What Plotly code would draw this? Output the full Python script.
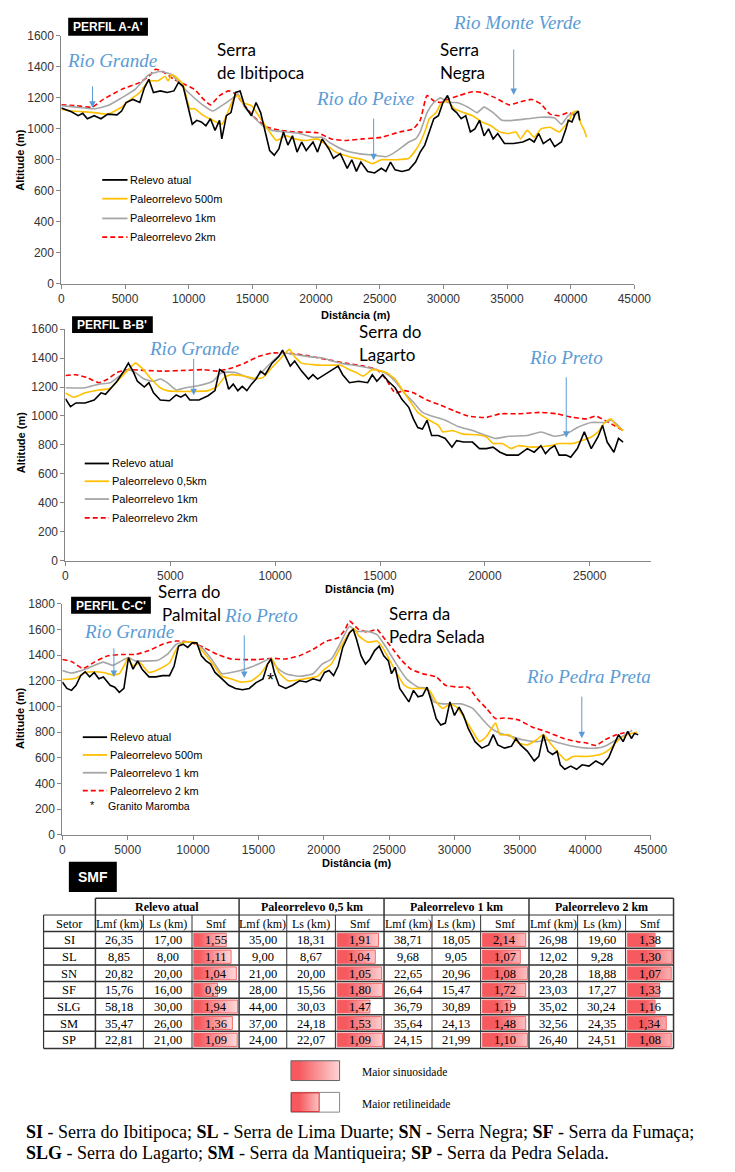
import plotly.graph_objects as go

W, H = 735, 1172


def px(x):
    return x / W


def py(y):
    return 1 - y / H


# ---------------- DATA ----------------
# Perfil A-A'
a_atual_x = [0, 790, 1320, 1680, 2040, 2580, 3110, 3650, 4370, 4730, 5080, 5620, 6160, 6520, 6870, 7230, 7770, 8310, 8840, 9200, 9560, 9920, 10280, 10630, 10990, 11350, 11710, 12070, 12420, 12600, 12960, 13320, 13680, 14040, 14390, 14930, 15290, 15650, 16000, 16360, 16720, 17080, 17440, 17790, 18150, 18510, 18870, 19230, 19760, 20120, 20480, 21010, 21370, 21910, 22450, 22810, 23170, 23520, 24060, 24600, 25130, 25490, 25850, 26210, 26750, 27290, 27820, 28180, 28540, 28900, 29250, 29610, 29970, 30330, 30690, 31040, 31400, 31760, 32120, 32480, 32840, 33200, 33550, 33910, 34270, 34800, 35520, 36240, 36770, 37130, 37490, 37850, 38380, 38740, 39270, 39630, 39810, 40100, 40350, 40600, 40710]
a_atual_y = [1135, 1110, 1085, 1100, 1065, 1085, 1065, 1095, 1090, 1115, 1170, 1190, 1170, 1265, 1320, 1235, 1245, 1235, 1245, 1300, 1275, 1150, 1030, 1055, 1045, 1020, 1065, 990, 1055, 935, 1085, 1105, 1235, 1245, 1150, 1085, 1170, 1105, 980, 860, 830, 870, 980, 895, 955, 850, 915, 860, 915, 850, 935, 870, 810, 840, 745, 800, 725, 785, 725, 715, 745, 725, 785, 735, 725, 735, 785, 850, 895, 980, 1065, 1085, 1170, 1215, 1130, 1105, 1065, 1085, 980, 1000, 1055, 955, 1000, 935, 970, 905, 905, 915, 935, 915, 970, 905, 935, 885, 915, 1000, 1055, 1045, 1095, 1115, 1055]
a_500_x = [0, 790, 2580, 3650, 4730, 5440, 6160, 6870, 7590, 8130, 8380, 8660, 9200, 9560, 10100, 10460, 11170, 11890, 12600, 12960, 13500, 13860, 14210, 14930, 15650, 16360, 16900, 17620, 18330, 19230, 20120, 20840, 21550, 22630, 23700, 24420, 25130, 26210, 27290, 28000, 28540, 28900, 29430, 29790, 30330, 30860, 31580, 32300, 33010, 33730, 34440, 35160, 35700, 36060, 36590, 37130, 37670, 38380, 39100, 39450, 39810, 40170, 40460, 40820, 41070, 41250]
a_500_y = [1125, 1115, 1105, 1095, 1140, 1190, 1235, 1310, 1310, 1340, 1310, 1350, 1320, 1285, 1130, 1130, 1085, 1055, 1030, 1085, 1190, 1215, 1170, 1150, 1065, 980, 925, 955, 935, 925, 935, 895, 850, 820, 800, 775, 800, 800, 810, 885, 980, 1065, 1105, 1160, 1180, 1130, 1105, 1085, 1045, 1020, 980, 970, 980, 935, 990, 945, 1000, 1010, 980, 1010, 1045, 1105, 1115, 1030, 990, 945]
a_1k_x = [0, 1150, 2580, 3650, 4730, 5800, 6870, 7770, 8660, 9380, 10100, 11170, 11890, 12600, 13320, 13860, 14390, 15110, 15830, 16540, 17620, 18690, 19760, 20480, 21200, 22270, 23340, 24420, 25490, 26030, 26570, 27290, 27820, 28180, 28720, 29250, 29790, 30330, 31040, 31940, 32650, 33190, 33910, 34620, 35520, 36590, 37670, 38740, 39270, 39810, 40350]
a_1k_y = [1150, 1140, 1130, 1150, 1200, 1255, 1350, 1370, 1350, 1285, 1225, 1150, 1115, 1150, 1190, 1225, 1140, 1075, 1020, 990, 980, 970, 945, 945, 905, 860, 840, 830, 820, 840, 870, 915, 935, 980, 1105, 1170, 1200, 1170, 1170, 1140, 1105, 1140, 1105, 1055, 1055, 1065, 1075, 1070, 1030, 1085, 1105]
a_2k_x = [0, 1150, 2400, 3290, 4730, 6160, 6870, 7410, 7950, 8840, 9740, 10460, 11170, 11710, 12420, 13140, 13680, 14390, 15290, 16180, 17260, 18330, 20120, 21200, 22270, 23700, 25130, 26570, 27640, 28180, 28720, 29250, 29790, 30330, 31220, 32300, 33010, 34090, 35160, 35880, 36950, 37670, 38380, 39100, 39810, 40350]
a_2k_y = [1155, 1150, 1140, 1190, 1255, 1300, 1340, 1385, 1370, 1320, 1285, 1255, 1190, 1155, 1215, 1245, 1225, 1150, 1065, 1010, 990, 980, 975, 935, 925, 935, 945, 980, 1000, 1055, 1215, 1180, 1170, 1190, 1215, 1240, 1235, 1200, 1155, 1170, 1190, 1160, 1095, 1085, 1105, 1085]

# Perfil B-B'
b_atual_x = [0, 240, 500, 935, 1370, 1700, 1910, 2130, 2460, 2780, 3000, 3220, 3430, 3760, 3980, 4200, 4520, 4960, 5280, 5500, 5720, 5930, 6370, 6800, 7130, 7350, 7570, 7780, 8000, 8220, 8430, 8650, 8870, 9090, 9300, 9520, 9850, 10170, 10350, 10500, 10720, 10930, 11260, 11590, 11800, 12020, 12350, 12670, 13000, 13220, 13540, 13980, 14410, 14630, 14850, 15130, 15390, 15720, 16040, 16370, 16590, 16800, 17020, 17240, 17460, 17780, 18110, 18430, 18650, 18980, 19410, 19740, 20070, 20390, 20720, 21040, 21590, 22020, 22350, 22670, 22890, 23110, 23330, 23540, 23870, 24090, 24410, 24740, 25070, 25390, 25610, 25830, 26150, 26370, 26590]
b_atual_y = [1120, 1065, 1090, 1090, 1110, 1160, 1150, 1185, 1240, 1310, 1365, 1310, 1240, 1200, 1230, 1160, 1110, 1105, 1145, 1130, 1150, 1110, 1110, 1140, 1175, 1320, 1300, 1185, 1220, 1175, 1205, 1175, 1220, 1255, 1310, 1285, 1365, 1410, 1455, 1410, 1345, 1380, 1310, 1255, 1285, 1255, 1285, 1320, 1345, 1285, 1230, 1240, 1230, 1285, 1240, 1285, 1240, 1195, 1115, 1060, 980, 920, 910, 970, 865, 865, 845, 785, 830, 820, 820, 775, 775, 785, 750, 730, 730, 775, 750, 795, 740, 775, 795, 730, 730, 715, 775, 890, 775, 855, 935, 820, 750, 845, 820]
b_500_x = [0, 390, 935, 1590, 2130, 2570, 3000, 3330, 3650, 4090, 4520, 4850, 5280, 6150, 6800, 7240, 7570, 7890, 8540, 8980, 9410, 9850, 10280, 10670, 10930, 11260, 11800, 12240, 13110, 13540, 13870, 14200, 14630, 15280, 15720, 16040, 16370, 16800, 17240, 17780, 18000, 18430, 18980, 19630, 20070, 20390, 20830, 21260, 21590, 22240, 23110, 23540, 24200, 24630, 25070, 25390, 25720, 26000, 26260, 26590]
b_500_y = [1160, 1130, 1160, 1180, 1190, 1255, 1320, 1365, 1330, 1255, 1195, 1175, 1170, 1170, 1175, 1205, 1265, 1285, 1275, 1260, 1265, 1335, 1400, 1460, 1410, 1365, 1355, 1350, 1350, 1320, 1300, 1275, 1320, 1300, 1255, 1185, 1115, 1025, 980, 935, 890, 900, 875, 870, 855, 810, 810, 775, 795, 785, 795, 810, 810, 830, 855, 890, 955, 980, 935, 900]
b_1k_x = [0, 935, 1590, 2130, 2570, 3000, 3330, 3760, 4200, 4520, 4850, 5280, 5720, 6370, 7020, 7460, 8110, 8540, 8980, 9410, 9960, 10390, 10930, 11590, 12240, 13110, 13980, 14850, 15390, 15720, 16150, 16590, 17020, 17460, 18110, 18760, 19410, 20070, 20500, 21150, 22020, 22670, 23330, 23870, 24410, 25070, 25720, 26040, 26590]
b_1k_y = [1195, 1195, 1220, 1230, 1275, 1320, 1300, 1255, 1240, 1255, 1230, 1180, 1195, 1210, 1240, 1300, 1300, 1275, 1255, 1310, 1390, 1435, 1425, 1410, 1400, 1365, 1345, 1320, 1285, 1240, 1160, 1095, 1025, 1000, 970, 925, 900, 865, 845, 860, 865, 890, 860, 875, 920, 955, 955, 970, 900]
b_2k_x = [0, 500, 1040, 1590, 2020, 2460, 3000, 3760, 4630, 5720, 6590, 7240, 7890, 8540, 9200, 9850, 10930, 11590, 12460, 13330, 14200, 14850, 15280, 15720, 16150, 16590, 17240, 17890, 18540, 19200, 20070, 20720, 21590, 22670, 23430, 24200, 24850, 25280, 25720, 26150, 26590]
b_2k_y = [1280, 1285, 1265, 1230, 1255, 1300, 1320, 1315, 1310, 1315, 1320, 1310, 1330, 1365, 1410, 1435, 1430, 1415, 1390, 1365, 1345, 1320, 1255, 1160, 1175, 1160, 1110, 1075, 1035, 1000, 990, 1015, 1015, 1025, 1015, 990, 980, 1000, 970, 935, 900]

# Perfil C-C'
c_atual_x = [0, 350, 700, 1050, 1400, 1740, 2090, 2440, 2790, 3140, 3660, 4010, 4360, 4710, 5060, 5410, 5760, 6100, 6630, 7150, 7670, 8200, 8550, 8890, 9240, 9590, 9940, 10290, 10640, 10990, 11340, 11680, 12210, 12730, 13250, 13780, 14300, 14820, 15350, 15700, 15970, 16220, 16570, 17090, 17610, 18140, 18660, 19180, 19710, 20060, 20400, 20750, 21100, 21450, 21970, 22250, 22500, 22850, 23190, 23540, 23890, 24240, 24590, 24940, 25180, 25460, 25810, 26160, 26510, 26860, 27210, 27560, 27900, 28250, 28600, 28950, 29300, 29650, 30000, 30350, 30690, 31040, 31570, 32090, 32610, 32960, 33310, 33830, 34360, 34700, 35050, 35580, 36100, 36450, 36800, 37150, 37500, 37850, 38090, 38440, 38890, 39340, 39760, 40290, 40810, 41330, 41790, 42200, 42550, 42900, 43250, 43530, 43770, 44050]
c_atual_y = [1190, 1140, 1125, 1165, 1240, 1270, 1230, 1265, 1215, 1230, 1165, 1150, 1110, 1140, 1380, 1290, 1355, 1290, 1230, 1230, 1240, 1240, 1315, 1470, 1485, 1460, 1495, 1495, 1395, 1355, 1330, 1265, 1215, 1165, 1140, 1130, 1140, 1185, 1215, 1330, 1370, 1265, 1165, 1140, 1165, 1200, 1190, 1215, 1200, 1265, 1280, 1240, 1315, 1460, 1575, 1600, 1525, 1395, 1330, 1370, 1435, 1470, 1395, 1355, 1255, 1305, 1140, 1085, 1035, 1125, 1075, 1085, 1150, 1035, 905, 855, 870, 1035, 930, 995, 930, 830, 725, 675, 700, 780, 700, 675, 690, 750, 700, 650, 575, 610, 780, 650, 625, 650, 545, 510, 535, 510, 545, 535, 575, 545, 600, 700, 780, 725, 805, 750, 790, 780]
c_500_x = [0, 1050, 1740, 2440, 3140, 3840, 4360, 4710, 5060, 5410, 5930, 6630, 7500, 8200, 8720, 9240, 10120, 10810, 11510, 12210, 12910, 13600, 14480, 15170, 15700, 16040, 16570, 17270, 18490, 19530, 20060, 20580, 21280, 21970, 22320, 22670, 23370, 24070, 24490, 24940, 25460, 26160, 26680, 27560, 28080, 28600, 29120, 29650, 30170, 30690, 31390, 31910, 32440, 33140, 33480, 34180, 34880, 35580, 36280, 36800, 37320, 37850, 38540, 39060, 40110, 41160, 41860, 42550, 43250, 43950]
c_500_y = [1210, 1220, 1265, 1270, 1265, 1245, 1255, 1315, 1380, 1315, 1340, 1265, 1295, 1340, 1445, 1500, 1500, 1420, 1330, 1235, 1215, 1190, 1200, 1255, 1330, 1370, 1265, 1200, 1215, 1235, 1290, 1330, 1460, 1575, 1605, 1550, 1500, 1510, 1460, 1380, 1280, 1165, 1140, 1140, 1125, 1035, 985, 1020, 995, 920, 805, 725, 765, 870, 780, 780, 715, 700, 740, 780, 715, 650, 580, 610, 610, 625, 665, 740, 780, 800]
c_1k_x = [0, 700, 1740, 3140, 3840, 4530, 5060, 5580, 6630, 7320, 8020, 8720, 9420, 10120, 10810, 11510, 12210, 12910, 13950, 15000, 15870, 16390, 17090, 18140, 19180, 19880, 20580, 21280, 21970, 22500, 23370, 24070, 24770, 25460, 26330, 27210, 27900, 28430, 29120, 29820, 30520, 31390, 32090, 32790, 33480, 34360, 35230, 36280, 37150, 38020, 39060, 40110, 40810, 41510, 42380, 43250, 43600]
c_1k_y = [1280, 1260, 1290, 1345, 1320, 1355, 1380, 1355, 1355, 1360, 1405, 1485, 1500, 1495, 1445, 1355, 1255, 1265, 1290, 1330, 1370, 1305, 1255, 1235, 1255, 1330, 1370, 1495, 1625, 1585, 1585, 1560, 1460, 1345, 1215, 1150, 1140, 1035, 1020, 1020, 1020, 985, 905, 830, 790, 765, 740, 725, 740, 715, 690, 675, 675, 690, 740, 790, 815]
c_2k_x = [0, 700, 1570, 2440, 3490, 4530, 5580, 6630, 7670, 8720, 9770, 10810, 11860, 12910, 13950, 15000, 16040, 17090, 18140, 19180, 20230, 21100, 21630, 21970, 22670, 23370, 24070, 24590, 25290, 25990, 26680, 27560, 28600, 29300, 30350, 31040, 31740, 32440, 33140, 33830, 34880, 35930, 36970, 38370, 39410, 40110, 40810, 41510, 42380, 43250]
c_2k_y = [1365, 1350, 1295, 1345, 1395, 1405, 1405, 1435, 1485, 1510, 1500, 1460, 1405, 1370, 1365, 1365, 1375, 1370, 1395, 1445, 1510, 1535, 1600, 1665, 1600, 1580, 1600, 1535, 1445, 1355, 1290, 1255, 1230, 1165, 1150, 1150, 1060, 985, 905, 910, 895, 840, 805, 750, 725, 715, 695, 740, 780, 800]

# SMF table
setores = ["SI", "SL", "SN", "SF", "SLG", "SM", "SP"]
grupos = ["Relevo atual", "Paleorrelevo 0,5 km", "Paleorrelevo 1 km", "Paleorrelevo 2 km"]
sub_cols = ["Lmf (km)", "Ls (km)", "Smf"]
atual_lmf = [26.35, 8.85, 20.82, 15.76, 58.18, 35.47, 22.81]
atual_ls = [17.00, 8.00, 20.00, 16.00, 30.00, 26.00, 21.00]
atual_smf = [1.55, 1.11, 1.04, 0.99, 1.94, 1.36, 1.09]
p05_lmf = [35.00, 9.00, 21.00, 28.00, 44.00, 37.00, 24.00]
p05_ls = [18.31, 8.67, 20.00, 15.56, 30.03, 24.18, 22.07]
p05_smf = [1.91, 1.04, 1.05, 1.80, 1.47, 1.53, 1.09]
p1_lmf = [38.71, 9.68, 22.65, 26.64, 36.79, 35.64, 24.15]
p1_ls = [18.05, 9.05, 20.96, 15.47, 30.89, 24.13, 21.99]
p1_smf = [2.14, 1.07, 1.08, 1.72, 1.19, 1.48, 1.10]
p2_lmf = [26.98, 12.02, 20.28, 23.03, 35.02, 32.56, 26.40]
p2_ls = [19.60, 9.28, 18.88, 17.27, 30.24, 24.35, 24.51]
p2_smf = [1.38, 1.30, 1.07, 1.33, 1.16, 1.34, 1.08]
# data-bar fill fraction
atual_bar = [0.74, 0.85, 0.97, 0.54, 1.00, 0.88, 0.99]
p05_bar = [0.91, 0.84, 0.98, 1.00, 0.72, 0.98, 1.00]
p1_bar = [0.96, 0.84, 1.00, 0.96, 0.62, 0.96, 1.00]
p2_bar = [0.62, 1.00, 0.98, 0.72, 0.62, 0.87, 0.98]

# ---------------- FIGURE ----------------
fig = go.Figure()

BLACK, YEL, GRY, RED = "#000000", "#FFC000", "#A6A6A6", "#FF0000"
BLUE = "#5B9BD5"
AX = "#868686"
TICKF = dict(family="Liberation Sans, Arial", size=12, color="#333333")

panels = [
    dict(n="", xd=(60, 649), yd=(280, 29.3), xr=45000, yr=1600, dt=200, xt=45000,
         s=[(a_atual_x, a_atual_y), (a_500_x, a_500_y), (a_1k_x, a_1k_y), (a_2k_x, a_2k_y)]),
    dict(n="2", xd=(64.2, 665.7), yd=(560.5, 326), xr=27900, yr=1600, dt=200, xt=25000,
         s=[(b_atual_x, b_atual_y), (b_500_x, b_500_y), (b_1k_x, b_1k_y), (b_2k_x, b_2k_y)]),
    dict(n="3", xd=(61, 665.7), yd=(837.7, 604), xr=45000, yr=1800, dt=200, xt=45000,
         s=[(c_atual_x, c_atual_y), (c_500_x, c_500_y), (c_1k_x, c_1k_y), (c_2k_x, c_2k_y)]),
]
styles = [
    dict(color=BLACK, width=1.6),
    dict(color=YEL, width=1.6, shape="spline", smoothing=0.5),
    dict(color=GRY, width=1.6, shape="spline", smoothing=0.5),
    dict(color=RED, width=1.6, dash="5px,3px", shape="spline", smoothing=0.5),
]

for p in panels:
    n = p["n"]
    xa, ya = "x" + n, "y" + n
    for i in [3, 2, 1, 0]:
        xs, ys = p["s"][i]
        fig.add_trace(go.Scatter(x=xs, y=ys, mode="lines", line=styles[i],
                                 xaxis=xa, yaxis=ya, showlegend=False, hoverinfo="skip"))
    fig.layout["xaxis" + n] = dict(domain=[px(p["xd"][0]), px(p["xd"][1])], range=[0, p["xr"]],
                                   tickvals=list(range(0, p["xt"] + 1, 5000)), tickformat="d",
                                   ticks="outside", ticklen=4, tickcolor=AX, showline=True, linecolor=AX,
                                   linewidth=1, showgrid=False, zeroline=False, tickfont=TICKF,
                                   anchor=ya, fixedrange=True)
    fig.layout["yaxis" + n] = dict(domain=[py(p["yd"][0]), py(p["yd"][1])], range=[0, p["yr"]],
                                   tickvals=list(range(0, p["yr"] + 1, p["dt"])), tickformat="d",
                                   ticks="outside", ticklen=4, tickcolor=AX, showline=True, linecolor=AX,
                                   linewidth=1, showgrid=False, zeroline=False, tickfont=TICKF,
                                   anchor=xa, fixedrange=True)

shapes = []
ann = []


def text(x, y, t, size=12, color="#000", family="Liberation Sans, Arial", xanchor="left", **kw):
    ann.append(dict(x=px(x), y=py(y), xref="paper", yref="paper", text=t, showarrow=False,
                    xanchor=xanchor, yanchor="middle", font=dict(size=size, color=color, family=family), **kw))


def arrow(x, y0, y1):
    ann.append(dict(x=px(x), y=py(y1), xref="paper", yref="paper", text="", showarrow=True,
                    ax=0, ay=-(y1 - y0), axref="pixel", ayref="pixel", arrowhead=2, arrowsize=1.3,
                    arrowwidth=1, arrowcolor=BLUE))


def label_box(x0, y0, x1, y1, t, size=12):
    shapes.append(dict(type="rect", xref="paper", yref="paper", x0=px(x0), x1=px(x1), y0=py(y1), y1=py(y0),
                       fillcolor="#000", line=dict(width=0)))
    text((x0 + x1) / 2, (y0 + y1) / 2 + 0.5, "<b>%s</b>" % t, size=size, color="#fff", xanchor="center")


def legend(x0, x1, ys, labels):
    for (y, lab, st) in zip(ys, labels, styles):
        shapes.append(dict(type="line", xref="paper", yref="paper", x0=px(x0), x1=px(x1), y0=py(y), y1=py(y),
                           line=dict(color=st["color"], width=1.8, dash=st.get("dash", "solid"))))
        text(x1 + 1, y, lab, size=11)


SERIF_I = "Liberation Serif, Times New Roman"
SANS_H = "Lato, Carlito, Calibri"

# Panel A
label_box(67, 11, 149, 29, "PERFIL A-A'")
text(18, 155, "<b>Altitude (m)</b>", size=11, xanchor="center", textangle=-90)
text(362, 312, "<b>Distância (m)</b>", size=11, xanchor="center")
legend(102, 128, [175, 194, 214, 233], ["Relevo atual", "Paleorrelevo 500m", "Paleorrelevo 1km", "Paleorrelevo 2km"])
text(112, 54, "<i>Rio Grande</i>", size=19, color=BLUE, family=SERIF_I, xanchor="center")
arrow(92, 79, 102)
text(218, 43, "Serra", size=17, family=SANS_H)
text(218, 66, "de Ibitipoca", size=17, family=SANS_H)
text(372, 93, "<i>Rio do Peixe</i>", size=19, color=BLUE, family=SERIF_I, xanchor="center")
arrow(381, 112, 155)
text(447, 43, "Serra", size=17, family=SANS_H)
text(447, 66, "Negra", size=17, family=SANS_H)
text(528, 16, "<i>Rio Monte Verde</i>", size=19, color=BLUE, family=SERIF_I, xanchor="center")
arrow(525, 42, 89)

# Panel B
label_box(71, 313, 154, 330, "PERFIL B-B'")
text(18, 441, "<b>Altitude (m)</b>", size=11, xanchor="center", textangle=-90)
text(366, 589, "<b>Distância (m)</b>", size=11, xanchor="center")
legend(84, 109, [462, 480, 498, 517], ["Relevo atual", "Paleorrelevo 0,5km", "Paleorrelevo 1km", "Paleorrelevo 2km"])
text(196, 346, "<i>Rio Grande</i>", size=19, color=BLUE, family=SERIF_I, xanchor="center")
arrow(196, 355, 393)
text(364, 328, "Serra do", size=17, family=SANS_H)
text(364, 352, "Lagarto", size=17, family=SANS_H)
text(579, 355, "<i>Rio Preto</i>", size=19, color=BLUE, family=SERIF_I, xanchor="center")
arrow(579, 374, 436)

# Panel C
label_box(70, 597, 152, 614, "PERFIL C-C'")
text(18, 720, "<b>Altitude (m)</b>", size=11, xanchor="center", textangle=-90)
text(363, 866, "<b>Distância (m)</b>", size=11, xanchor="center")
legend(82, 107, [739, 757, 775, 793], ["Relevo atual", "Paleorrelevo 500m", "Paleorrelevo 1 km", "Paleorrelevo 2 km"])
text(92, 808, "*", size=11, xanchor="center")
text(106, 809, "Granito Maromba", size=10.5)
text(157, 592, "Serra do", size=17, family=SANS_H)
text(161, 615, "Palmital", size=17, family=SANS_H)
text(265, 616, "<i>Rio Preto</i>", size=19, color=BLUE, family=SERIF_I, xanchor="center")
arrow(248, 635, 679)
text(130, 632, "<i>Rio Grande</i>", size=19, color=BLUE, family=SERIF_I, xanchor="center")
arrow(114, 648, 678)
text(275, 681, "*", size=18, xanchor="center")
text(395, 614, "Serra da", size=17, family=SANS_H)
text(395, 637, "Pedra Selada", size=17, family=SANS_H)
text(602, 678, "<i>Rio Pedra Preta</i>", size=19, color=BLUE, family=SERIF_I, xanchor="center")
arrow(595, 697, 740)

# ---------------- TABLE ----------------
label_box(67.7, 865, 117, 895.7, "SMF", size=14)

col_x = [41.7, 95, 144.3, 194.3, 242.7, 291.7, 341.7, 391.7, 441, 491, 540.7, 590.7, 640, 689.3]
row_y = [902, 919, 935.7, 952.7, 969.7, 986.3, 1003.3, 1020, 1036.7, 1054]
TFONT = "Liberation Serif, Times New Roman"
LC = "#333333"


def seg(x0, y0, x1, y1, w=1, c=LC):
    shapes.append(dict(type="line", xref="paper", yref="paper", x0=px(x0), x1=px(x1), y0=py(y0), y1=py(y1),
                       line=dict(color=c, width=w)))


seg(col_x[1], row_y[0], col_x[-1], row_y[0], 1.5)
for j in range(1, len(row_y)):
    seg(col_x[0], row_y[j], col_x[-1], row_y[j], 1.5 if j >= 2 else 1.2)
seg(col_x[0], row_y[1], col_x[0], row_y[-1], 1.2)
for k in range(1, len(col_x)):
    major = (k - 1) % 3 == 0 or k == len(col_x) - 1
    seg(col_x[k], row_y[0] if major else row_y[1], col_x[k], row_y[-1], 1.5 if major else 1)

for g, name in enumerate(grupos):
    xc = (col_x[1 + 3 * g] + col_x[4 + 3 * g]) / 2
    text(xc, (row_y[0] + row_y[1]) / 2 + 0.5, "<b>%s</b>" % name, size=12, family=TFONT, xanchor="center")
text((col_x[0] + col_x[1]) / 2, (row_y[1] + row_y[2]) / 2 + 0.5, "Setor", size=12.5, family=TFONT, xanchor="center")
for g in range(4):
    for s, name in enumerate(sub_cols):
        c = 1 + 3 * g + s
        text((col_x[c] + col_x[c + 1]) / 2, (row_y[1] + row_y[2]) / 2 + 0.5, name, size=12, family=TFONT,
             xanchor="center")

groups_data = [(atual_lmf, atual_ls, atual_smf, atual_bar), (p05_lmf, p05_ls, p05_smf, p05_bar),
               (p1_lmf, p1_ls, p1_smf, p1_bar), (p2_lmf, p2_ls, p2_smf, p2_bar)]


def fmt(v):
    return ("%.2f" % v).replace(".", ",")


GRAD = [[0, "#F65A5F"], [1, "#FFF1F1"]]

for r, setor in enumerate(setores):
    yc = (row_y[2 + r] + row_y[3 + r]) / 2 + 0.5
    text((col_x[0] + col_x[1]) / 2, yc, setor, size=12.5, family=TFONT, xanchor="center")
    for g, (lmf, ls, smf, bar) in enumerate(groups_data):
        c = 1 + 3 * g
        bx0 = col_x[c + 2] + 1.8
        bx1 = bx0 + (col_x[c + 3] - 1.5 - bx0) * bar[r]
        by0 = row_y[2 + r] + 1.8
        by1 = row_y[3 + r] - 1.8
        fig.add_trace(go.Scatter(x=[bx0, bx1, bx1, bx0, bx0], y=[by0, by0, by1, by1, by0], mode="lines",
                                 fill="toself",
                                 fillgradient=dict(type="horizontal", start=bx0, stop=bx1, colorscale=GRAD),
                                 line=dict(color="#F4676B", width=1), xaxis="x4", yaxis="y4",
                                 showlegend=False, hoverinfo="skip"))
        for s, v in enumerate([lmf[r], ls[r], smf[r]]):
            text((col_x[c + s] + col_x[c + s + 1]) / 2, yc, fmt(v), size=12.5, family=TFONT, xanchor="center")

# key boxes
shapes.append(dict(type="rect", xref="paper", yref="paper", x0=px(296), x1=px(346), y0=py(1118.5), y1=py(1098.5),
                   fillcolor="#fff", line=dict(color="#888888", width=1), layer="below"))
fig.add_trace(go.Scatter(x=[296, 346, 346, 296, 296], y=[1066.5, 1066.5, 1086.5, 1086.5, 1066.5], mode="lines",
                         fill="toself",
                         fillgradient=dict(type="horizontal", start=296, stop=346, colorscale=GRAD),
                         line=dict(color="#666666", width=1), xaxis="x4", yaxis="y4",
                         showlegend=False, hoverinfo="skip"))
fig.add_trace(go.Scatter(x=[296.5, 325, 325, 296.5, 296.5], y=[1099, 1099, 1118, 1118, 1099], mode="lines",
                         fill="toself",
                         fillgradient=dict(type="horizontal", start=296.5, stop=325, colorscale=GRAD),
                         line=dict(color="#D9262C", width=1), xaxis="x4", yaxis="y4",
                         showlegend=False, hoverinfo="skip"))
text(367, 1078, "Maior sinuosidade", size=11.5, family=TFONT)
text(367, 1110, "Maior retilineidade", size=11.5, family=TFONT)

text(22, 1139, "<b>SI</b> - Serra do Ibitipoca; <b>SL</b> - Serra de Lima Duarte; <b>SN</b> - Serra Negra; "
               "<b>SF</b> - Serra da Fumaça;", size=18, family=TFONT)
text(22, 1160, "<b>SLG</b> - Serra do Lagarto; <b>SM</b> - Serra da Mantiqueira; <b>SP</b> - Serra da Pedra Selada.",
     size=18, family=TFONT)

fig.layout["xaxis4"] = dict(domain=[0, 1], range=[0, W], visible=False, anchor="y4", fixedrange=True)
fig.layout["yaxis4"] = dict(domain=[0, 1], range=[H, 0], visible=False, anchor="x4", fixedrange=True)

fig.update_layout(width=W, height=H, autosize=False, margin=dict(l=0, r=0, t=0, b=0),
                  paper_bgcolor="#ffffff", plot_bgcolor="rgba(0,0,0,0)", shapes=shapes, annotations=ann,
                  showlegend=False)

fig.write_html("out.html", config={"displayModeBar": False},
               post_script="document.body.style.margin='0';document.documentElement.style.overflow='hidden';"
                           "document.body.style.overflow='hidden';")
